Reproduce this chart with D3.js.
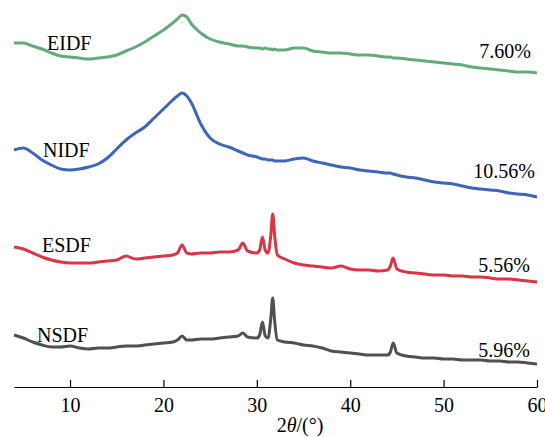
<!DOCTYPE html>
<html><head><meta charset="utf-8">
<script src="https://cdn.jsdelivr.net/npm/d3@7"></script>
<style>body{margin:0;background:#fff}svg{display:block}text{font-family:"Liberation Serif","Times New Roman",serif}</style>
</head><body><svg id="c" width="545" height="437"></svg>
<script>
const angles = [4,5,6,7,8,9,10,11,12,13,14,15,16,17,18,19,20,21,21.5,22,22.5,23,24,25,26,27,28,28.5,29,30,30.3,30.6,30.9,31.2,31.5,31.7,31.9,32.2,33,34,35,36,37,38,39,40,41,42,43,44,44.3,44.6,45,46,47,48,49,50,51,52,53,54,55,56,57,58,59,60];
const EIDF = [344,344,341,338,334,331,330,329,328,329,330,332,336,340,345,351,357,364,368,372,370,363,354,348,345,343,341,341,340,339,339,338,339,338,338,337,338,337,337,339,339,336,335,334,334,333,332,332,331,330,330,329,329,328,327,326,325,324,323,322,320,319,318,317,316,315,315,314];
const NIDF = [237,239,234,227,222,218,217,218,220,223,229,238,247,254,260,269,278,287,291,294,291,284,263,249,243,240,236,234,232,230,229,228,228,227,227,227,226,226,226,228,229,226,224,222,220,219,217,216,215,214,214,213,212,210,209,207,205,204,203,201,199,198,197,196,194,193,192,190];
const ESDF = [140,138,134,130,127,125,124,124,124,125,126,127,131,128,129,130,131,132,134,142,134,133,134,134,135,135,137,144,136,134,137,150,137,134,152,173,152,132,128,124,122,121,120,119,121,118,117,117,116,117,121,129,118,115,114,113,112,112,111,111,110,110,109,108,108,107,106,105];
const NSDF = [52,49,45,42,40,40,41,39,38,39,39,40,41,41,42,43,44,45,47,51,47,47,48,48,49,50,51,54,50,49,52,65,51,49,69,89,67,47,45,44,42,41,39,36,35,34,33,32,32,32,35,44,34,31,30,29,29,28,28,27,27,27,26,26,25,25,24,23];
const seriesNames = ["EIDF","NIDF","ESDF","NSDF"];
const seriesColors = ["#64a97b","#3e65b6","#d83548","#505050"];
const crystallinity = ["7.60%","10.56%","5.56%","5.96%"];
const xTicks = [10,20,30,40,50,60];

const svg = d3.select("#c");
const x = d3.scaleLinear().domain([4,60]).range([14,537]);
const y = d3.scaleLinear().domain([0,380]).range([387,7]);
const all = [EIDF,NIDF,ESDF,NSDF];
const line = d3.line().x((d,i)=>x(angles[i])).y(d=>y(d)).curve(d3.curveMonotoneX);
all.forEach((s,k)=>{
  svg.append("path").datum(s).attr("d",line).attr("fill","none")
    .attr("stroke",seriesColors[k]).attr("stroke-width",3).attr("stroke-linejoin","round");
});
const nameX=[47,43,42,37], nameY=[50,157,252,342];
const pctX=[531,535,530,530], pctY=[58,178,272,357];
seriesNames.forEach((n,k)=>{
  svg.append("text").attr("x",nameX[k]).attr("y",nameY[k]).attr("font-size",20).attr("fill","#000").text(n);
  svg.append("text").attr("x",pctX[k]).attr("y",pctY[k]).attr("font-size",20).attr("text-anchor","end").attr("fill","#000").text(crystallinity[k]);
});
const ax = svg.append("g").attr("transform","translate(0,387)")
  .call(d3.axisBottom(x).tickValues(xTicks).tickSizeInner(-7).tickSizeOuter(0).tickPadding(11));
ax.select(".domain").attr("stroke","#000").attr("stroke-width",1.2);
ax.selectAll(".tick line").attr("stroke","#000").attr("stroke-width",1.2);
ax.selectAll(".tick text").attr("font-size",20).attr("fill","#000").attr("font-family","Liberation Serif");
const t = svg.append("text").attr("x",300).attr("y",432).attr("text-anchor","middle").attr("font-size",20).attr("fill","#000");
t.append("tspan").text("2");
t.append("tspan").attr("font-style","italic").text("θ");
t.append("tspan").text("/(°)");
</script></body></html>
